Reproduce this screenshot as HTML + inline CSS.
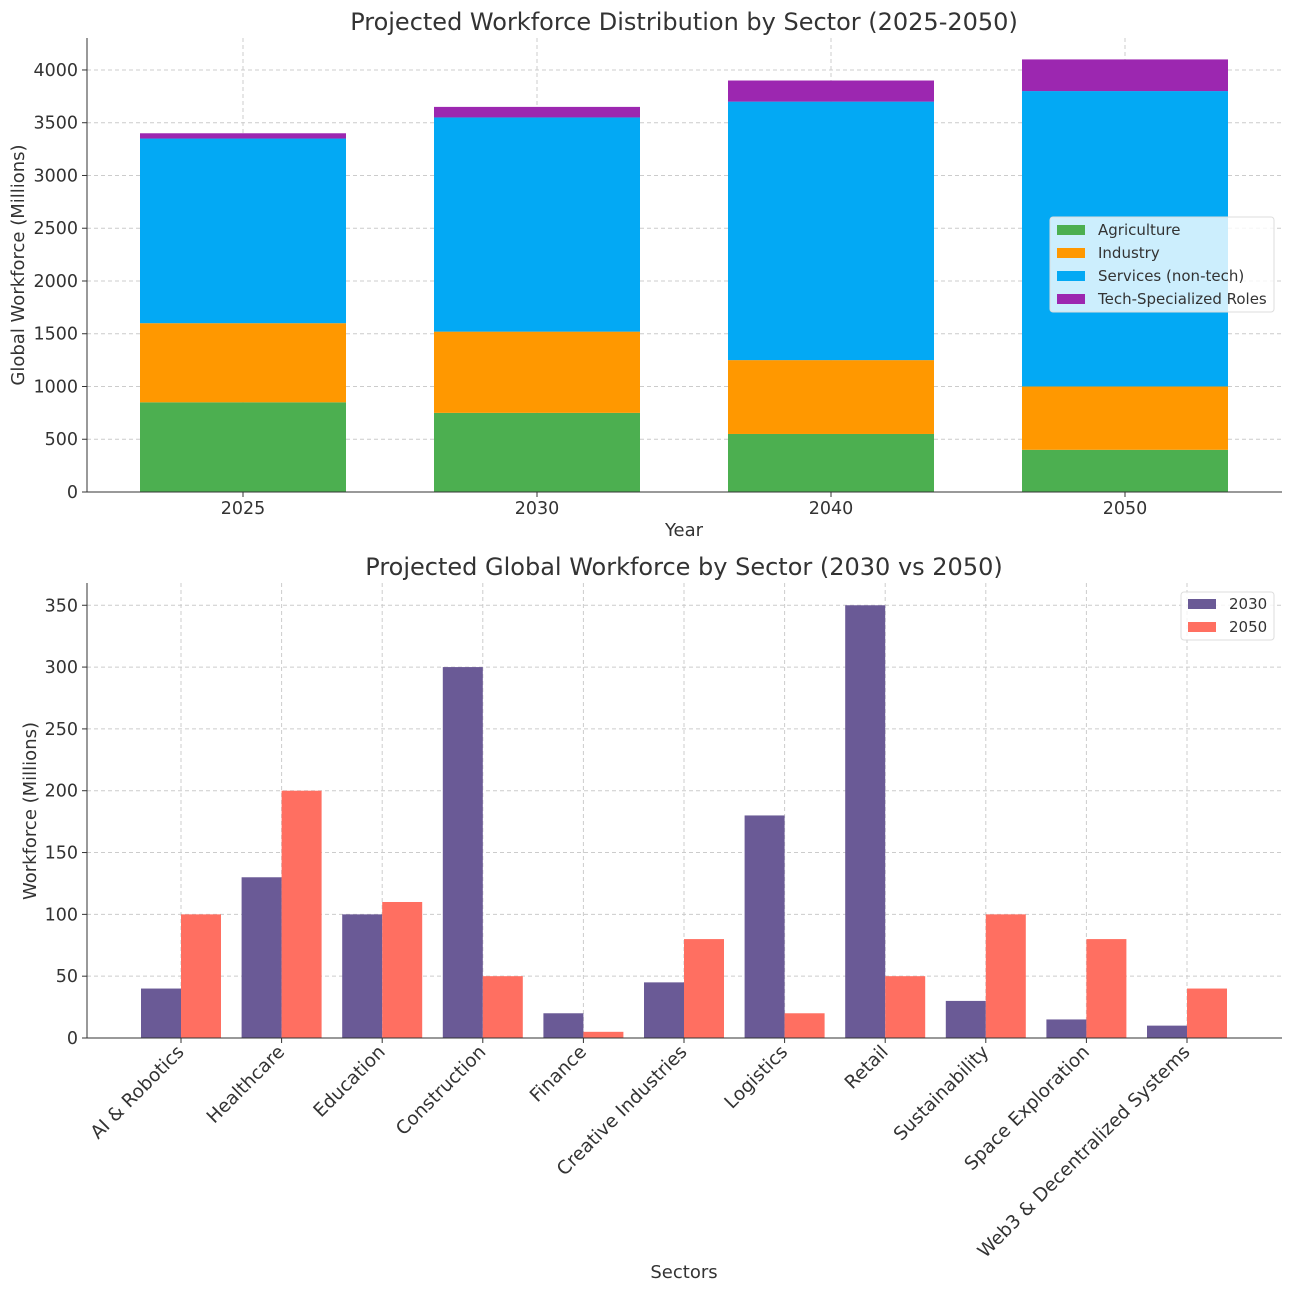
<!DOCTYPE html>
<html><head><meta charset="utf-8"><style>
body{margin:0;background:#fff}
svg{font-family:"DejaVu Sans","Liberation Sans",sans-serif}
</style></head><body>
<svg id="c" width="1292" height="1292" xmlns="http://www.w3.org/2000/svg"></svg>
<script>
const years=['2025','2030','2040','2050'];
const agriculture=[850,750,550,400];
const industry=[750,770,700,600];
const services=[1750,2030,2450,2800];
const tech=[50,100,200,300];
const topTicks=[0,500,1000,1500,2000,2500,3000,3500,4000];
const sectors=['AI & Robotics','Healthcare','Education','Construction','Finance','Creative Industries','Logistics','Retail','Sustainability','Space Exploration','Web3 & Decentralized Systems'];
const w2030=[40,130,100,300,20,45,180,350,30,15,10];
const w2050=[100,200,110,50,5,80,20,50,100,80,40];
const botTicks=[0,50,100,150,200,250,300,350];

const svg=document.getElementById('c');
const NS='http://www.w3.org/2000/svg';
function mk(t,a,p){const e=document.createElementNS(NS,t);for(const k in a)e.setAttribute(k,a[k]);(p||svg).appendChild(e);return e;}
function txt(s,a,p){const e=mk('text',a,p);e.textContent=s;return e;}

// ---------- top chart ----------
const T={l:87,r:1282,t:38,b:492};
const ty=v=>T.b-v*(T.b-T.t)/4303;
const tx=i=>243+i*294;
const g1=mk('g',{});


topTicks.forEach(v=>{
  const l=mk('line',{x1:T.l,x2:T.r,y1:ty(v),y2:ty(v),stroke:'#ccc','stroke-dasharray':'4,3'},g1);
  
  mk('line',{x1:T.l-5,x2:T.l,y1:ty(v),y2:ty(v),stroke:'#333'},g1);
  const t=txt(String(v),{x:T.l-9,y:ty(v)+6,'text-anchor':'end','font-size':17.5,fill:'#333'},g1);
  
});
years.forEach((y,i)=>{
  mk('line',{x1:tx(i),x2:tx(i),y1:T.t,y2:T.b,stroke:'#ccc','stroke-dasharray':'4,3'},g1);
  mk('line',{x1:tx(i),x2:tx(i),y1:T.b,y2:T.b+5,stroke:'#333'},g1);
  const t=txt(y,{x:tx(i),y:T.b+22,'text-anchor':'middle','font-size':17.5,fill:'#333'},g1);
  
});
const series=[[agriculture,'#4caf50','agriculture'],[industry,'#ff9800','industry'],[services,'#03a9f4','services'],[tech,'#9c27b0','tech']];
years.forEach((y,i)=>{
  let base=0;
  series.forEach(([arr,col,nm])=>{
    const r=mk('rect',{x:tx(i)-103,width:206,y:ty(base+arr[i]),height:ty(base)-ty(base+arr[i]),fill:col},g1);
    
    base+=arr[i];
  });
});
mk('line',{x1:T.l,x2:T.l,y1:T.t,y2:T.b,stroke:'#333'},g1);
mk('line',{x1:T.l,x2:T.r,y1:T.b,y2:T.b,stroke:'#333'},g1);
let e=txt('Projected Workforce Distribution by Sector (2025-2050)',{x:684,y:30,'text-anchor':'middle','font-size':24,fill:'#333'},g1);

e=txt('Year',{x:684,y:536,'text-anchor':'middle','font-size':18,fill:'#333'},g1);

e=txt('Global Workforce (Millions)',{x:24,y:265,'text-anchor':'middle','font-size':18,fill:'#333',transform:'rotate(-90 24 265)'},g1);

const lg1=mk('g',{},g1);

mk('rect',{x:1050,y:217,width:224,height:95,fill:'rgba(255,255,255,0.8)',stroke:'#ddd',rx:3},lg1);
[['Agriculture','#4caf50'],['Industry','#ff9800'],['Services (non-tech)','#03a9f4'],['Tech-Specialized Roles','#9c27b0']].forEach(([n,c],k)=>{
  const yy=230+k*23;
  mk('rect',{x:1057,y:yy-5,width:28,height:10,fill:c},lg1);
  const t=txt(n,{x:1098,y:yy+5,'font-size':15,fill:'#333'},lg1);
  
});

// ---------- bottom chart ----------
const B={l:87,r:1282,t:583,b:1038};
const by=v=>B.b-v*(B.b-B.t)/368;
const bx=i=>181+i*100.6;
const g2=mk('g',{});


botTicks.forEach(v=>{
  mk('line',{x1:B.l,x2:B.r,y1:by(v),y2:by(v),stroke:'#ccc','stroke-dasharray':'4,3'},g2);
  mk('line',{x1:B.l-5,x2:B.l,y1:by(v),y2:by(v),stroke:'#333'},g2);
  const t=txt(String(v),{x:B.l-9,y:by(v)+6,'text-anchor':'end','font-size':17.5,fill:'#333'},g2);
  
});
sectors.forEach((s,i)=>{
  mk('line',{x1:bx(i),x2:bx(i),y1:B.t,y2:B.b,stroke:'#ccc','stroke-dasharray':'4,3'},g2);
  let r=mk('rect',{x:bx(i)-40,width:40,y:by(w2030[i]),height:B.b-by(w2030[i]),fill:'#6a5a96'},g2);
  
  r=mk('rect',{x:bx(i),width:40,y:by(w2050[i]),height:B.b-by(w2050[i]),fill:'#ff6f61'},g2);
  
  mk('line',{x1:bx(i),x2:bx(i),y1:B.b,y2:B.b+5,stroke:'#333'},g2);
  const t=txt(s,{x:bx(i)+4,y:B.b+15,'text-anchor':'end','font-size':18.5,fill:'#333',transform:`rotate(-45 ${bx(i)+4} ${B.b+15})`},g2);
  
});
mk('line',{x1:B.l,x2:B.l,y1:B.t,y2:B.b,stroke:'#333'},g2);
mk('line',{x1:B.l,x2:B.r,y1:B.b,y2:B.b,stroke:'#333'},g2);
e=txt('Projected Global Workforce by Sector (2030 vs 2050)',{x:684,y:575,'text-anchor':'middle','font-size':24,fill:'#333'},g2);

e=txt('Sectors',{x:684,y:1278,'text-anchor':'middle','font-size':18,fill:'#333'},g2);

e=txt('Workforce (Millions)',{x:36,y:811,'text-anchor':'middle','font-size':18,fill:'#333',transform:'rotate(-90 36 811)'},g2);

const lg2=mk('g',{},g2);

mk('rect',{x:1181,y:592,width:93,height:48,fill:'rgba(255,255,255,0.8)',stroke:'#ddd',rx:3},lg2);
[['2030','#6a5a96'],['2050','#ff6f61']].forEach(([n,c],k)=>{
  const yy=604+k*23;
  mk('rect',{x:1188,y:yy-5,width:28,height:10,fill:c},lg2);
  const t=txt(n,{x:1229,y:yy+5,'font-size':15,fill:'#333'},lg2);
  
});
</script>
</body></html>
